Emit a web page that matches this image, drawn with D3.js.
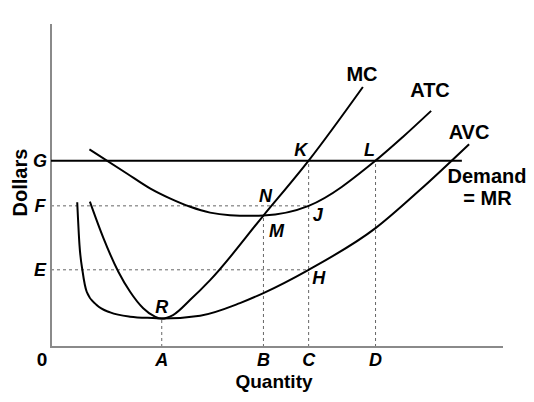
<!DOCTYPE html>
<html><head><meta charset="utf-8">
<script src="https://cdn.jsdelivr.net/npm/d3@7"></script>
<style>
html,body{margin:0;padding:0;background:#fff;}
svg text{font-family:"Liberation Sans",Arial,sans-serif;font-weight:bold;fill:#000;}
</style></head>
<body>
<svg id="c" width="534" height="402"></svg>
<script>
// Quantity ticks (x) and dollar levels (y)
const qTickNames = ["A","B","C","D"];
const qTickValues = [24.5, 47.0, 57.0, 71.8];
const dTickNames = ["G","F","E"];
const dTickValues = [57.7, 43.7, 23.9];
const minR = 8.8;       // R: minimum of MC and AVC
const minATC = 40.7;    // M: MC crosses ATC
const demandEnd = 90.9;

// Curves: [quantity, dollars]
const mcQ = [8.6, 11.6, 14.9, 17.5, 20.4, 23.0, 24.5, 27.0, 30.8, 35.2, 47.0, 57.0, 69.0];
const mcD = [45.0, 33.7, 23.3, 17.1, 12.0, 9.4, 8.8, 9.9, 14.6, 20.7, 40.7, 57.7, 80.5];
const atcQ = [8.5, 16.7, 21.9, 26.3, 30.8, 35.2, 39.6, 44.0, 47.0, 57.0, 71.8, 77.9, 84.1];
const atcD = [61.2, 53.8, 49.1, 46.0, 43.4, 41.6, 40.8, 40.6, 40.7, 43.7, 57.7, 65.1, 73.1];
const avcQ = [5.8, 6.3, 7.0, 7.9, 10.1, 13.1, 17.5, 23.4, 24.5, 33.0, 41.8, 47.0, 57.0, 71.8, 81.6, 92.5];
const avcD = [44.8, 31.6, 23.3, 17.1, 13.0, 10.7, 9.4, 8.9, 8.8, 9.7, 13.6, 16.7, 23.9, 36.8, 48.6, 62.8];

const svg = d3.select("#c");
const x = d3.scaleLinear().domain([0,100]).range([51,503]);
const y = d3.scaleLinear().domain([0,100]).range([347,24]);

const grey = "#8a8a8a";
const line = d3.line().x(d=>x(d[0])).y(d=>y(d[1])).curve(d3.curveMonotoneX);
const zip = (a,b)=>a.map((v,i)=>[v,b[i]]);

// dashed guides
const dash = svg.append("g").attr("stroke", "#666").attr("stroke-width",1).attr("stroke-dasharray","3,3").attr("fill","none");
dash.append("line").attr("x1",x(0)).attr("x2",x(qTickValues[2])).attr("y1",y(dTickValues[1])).attr("y2",y(dTickValues[1]));
dash.append("line").attr("x1",x(0)).attr("x2",x(qTickValues[2])).attr("y1",y(dTickValues[2])).attr("y2",y(dTickValues[2]));
const vTops = [minR, minATC, dTickValues[0], dTickValues[0]];
qTickValues.forEach((q,i)=>{
  dash.append("line").attr("x1",x(q)).attr("x2",x(q)).attr("y1",y(0)).attr("y2",y(vTops[i]));
});

// axes
svg.append("line").attr("x1",x(0)).attr("x2",x(0)).attr("y1",y(0)+1).attr("y2",y(100)).attr("stroke",grey).attr("stroke-width",2);
svg.append("line").attr("x1",x(0)-1).attr("x2",x(100)).attr("y1",y(0)).attr("y2",y(0)).attr("stroke",grey).attr("stroke-width",2);

// demand line
svg.append("line").attr("x1",x(0)).attr("x2",x(demandEnd)).attr("y1",y(dTickValues[0])).attr("y2",y(dTickValues[0])).attr("stroke","#000").attr("stroke-width",2);

// curves
[[mcQ,mcD],[atcQ,atcD],[avcQ,avcD]].forEach(([q,d])=>{
  svg.append("path").attr("d",line(zip(q,d))).attr("fill","none").attr("stroke","#000").attr("stroke-width",2);
});

// tick labels
svg.append("text").attr("x",x(0)-9).attr("y",y(0)+19).attr("text-anchor","middle").attr("font-size",19).text("0");
qTickNames.forEach((n,i)=>{
  svg.append("text").attr("x",x(qTickValues[i])).attr("y",y(0)+19).attr("text-anchor","middle")
    .attr("font-size",18).attr("font-style","italic").text(n);
});
dTickNames.forEach((n,i)=>{
  svg.append("text").attr("x",x(0)-11).attr("y",y(dTickValues[i])).attr("dy","0.36em").attr("text-anchor","middle")
    .attr("font-size",18).attr("font-style","italic").text(n);
});

// axis titles
svg.append("text").attr("transform",`translate(${x(0)-24},${182.5}) rotate(-90)`).attr("text-anchor","middle")
  .attr("font-size",20).text("Dollars");
svg.append("text").attr("x",274).attr("y",388).attr("text-anchor","middle").attr("font-size",19).text("Quantity");

// point labels
const pt = (t,px,py)=>svg.append("text").attr("x",px).attr("y",py).attr("text-anchor","middle")
  .attr("font-size",18).attr("font-style","italic").text(t);
pt("K", x(qTickValues[2])-8, y(dTickValues[0])-5);
pt("L", x(qTickValues[3])-6, y(dTickValues[0])-5);
pt("N", x(qTickValues[1])+2, y(dTickValues[1])-4);
pt("M", x(qTickValues[1])+13, y(minATC)+21);
pt("J", x(qTickValues[2])+9, y(dTickValues[1])+15);
pt("H", x(qTickValues[2])+10, y(dTickValues[2])+14);
pt("R", x(qTickValues[0]), y(minR)-6);

// curve names
const nm = (t,px,py)=>svg.append("text").attr("x",px).attr("y",py).attr("text-anchor","middle").attr("font-size",20).text(t);
nm("MC", 362, 81);
nm("ATC", 430, 97);
nm("AVC", 469, 139);
nm("Demand", 487, 182.5);
nm("= MR", 487.5, 205);
</script>
</body></html>
